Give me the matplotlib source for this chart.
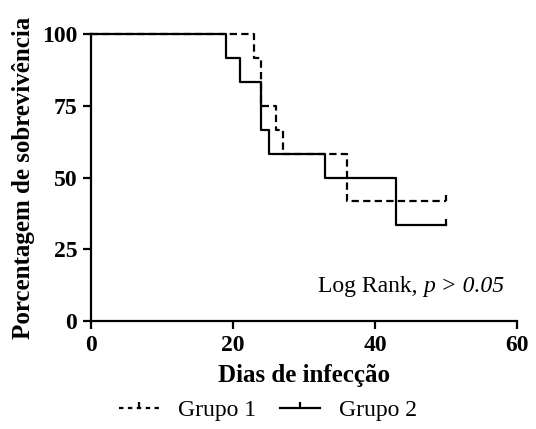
import matplotlib
matplotlib.use('Agg')
import matplotlib.pyplot as plt
from matplotlib.lines import Line2D
from matplotlib.path import Path

# curvas de Kaplan-Meier (dias, % sobrevivencia)
dias_g1 = [0, 23, 24, 26, 27, 36, 50]
surv_g1 = [100, 91.7, 75, 66.7, 58.3, 41.7, 41.7]
dias_g2 = [0, 19, 21, 24, 25, 33, 43, 50]
surv_g2 = [100, 91.7, 83.3, 66.7, 58.3, 50, 33.3, 33.3]
censura_g1 = ([50], [41.7])
censura_g2 = ([50], [33.3])

x_ticks = [0, 20, 40, 60]
y_ticks = [0, 25, 50, 75, 100]

plt.rcParams['font.family'] = ['Liberation Serif', 'DejaVu Serif']

tick_marker = Path([(0, 0), (0, 1)], [Path.MOVETO, Path.LINETO])
dash = (0, (3.3, 1.9))
lw = 1.6

fig = plt.figure(figsize=(5.36, 4.29), dpi=100)
ax = fig.add_axes([0.17, 0.2517, 0.7946, 0.669])

ax.plot(dias_g1, surv_g1, drawstyle='steps-post', color='black', lw=lw, linestyle=dash, clip_on=False)
ax.plot(*censura_g1, linestyle='none', marker=tick_marker, markersize=9, mew=lw, color='black', clip_on=False)
ax.plot(dias_g2, surv_g2, drawstyle='steps-post', color='black', lw=lw, clip_on=False)
ax.plot(*censura_g2, linestyle='none', marker=tick_marker, markersize=9, mew=lw, color='black', clip_on=False)

ax.set_xlim(0, 60)
ax.set_ylim(0, 100)
ax.set_xticks(x_ticks)
ax.set_yticks(y_ticks)
for s in ['top', 'right']:
    ax.spines[s].set_visible(False)
for s in ['left', 'bottom']:
    ax.spines[s].set_linewidth(lw)
ax.tick_params(direction='out', width=lw, length=6, pad=4, labelsize=17)
for lbl in ax.get_xticklabels() + ax.get_yticklabels():
    lbl.set_fontweight('bold')

ax.set_xlabel('Dias de infecção', fontsize=18, fontweight='bold', labelpad=6)
ax.set_ylabel('Porcentagem de sobrevivência', fontsize=18, fontweight='bold', labelpad=5)

# texto do teste: parte em italico alinhada a direita, resto colado a esquerda
t_p = ax.text(0.97, 0.12, 'p > 0.05', transform=ax.transAxes,
              ha='right', va='center', fontsize=17, style='italic')
ax.annotate('Log Rank, ', xy=(0, 0.5), xycoords=t_p, ha='right', va='center', fontsize=17)

handles = [
    Line2D([], [], color='black', lw=lw, linestyle=(0, (2, 2)), marker=tick_marker, markersize=9, mew=lw),
    Line2D([], [], color='black', lw=lw, marker=tick_marker, markersize=9, mew=lw),
]
fig.legend(handles, ['Grupo 1', 'Grupo 2'], loc='center', bbox_to_anchor=(0.5, 0.044), ncol=2,
           frameon=False, fontsize=17, handlelength=1.7, columnspacing=1.0, handletextpad=0.8)

fig.savefig('out.png', dpi=100)
